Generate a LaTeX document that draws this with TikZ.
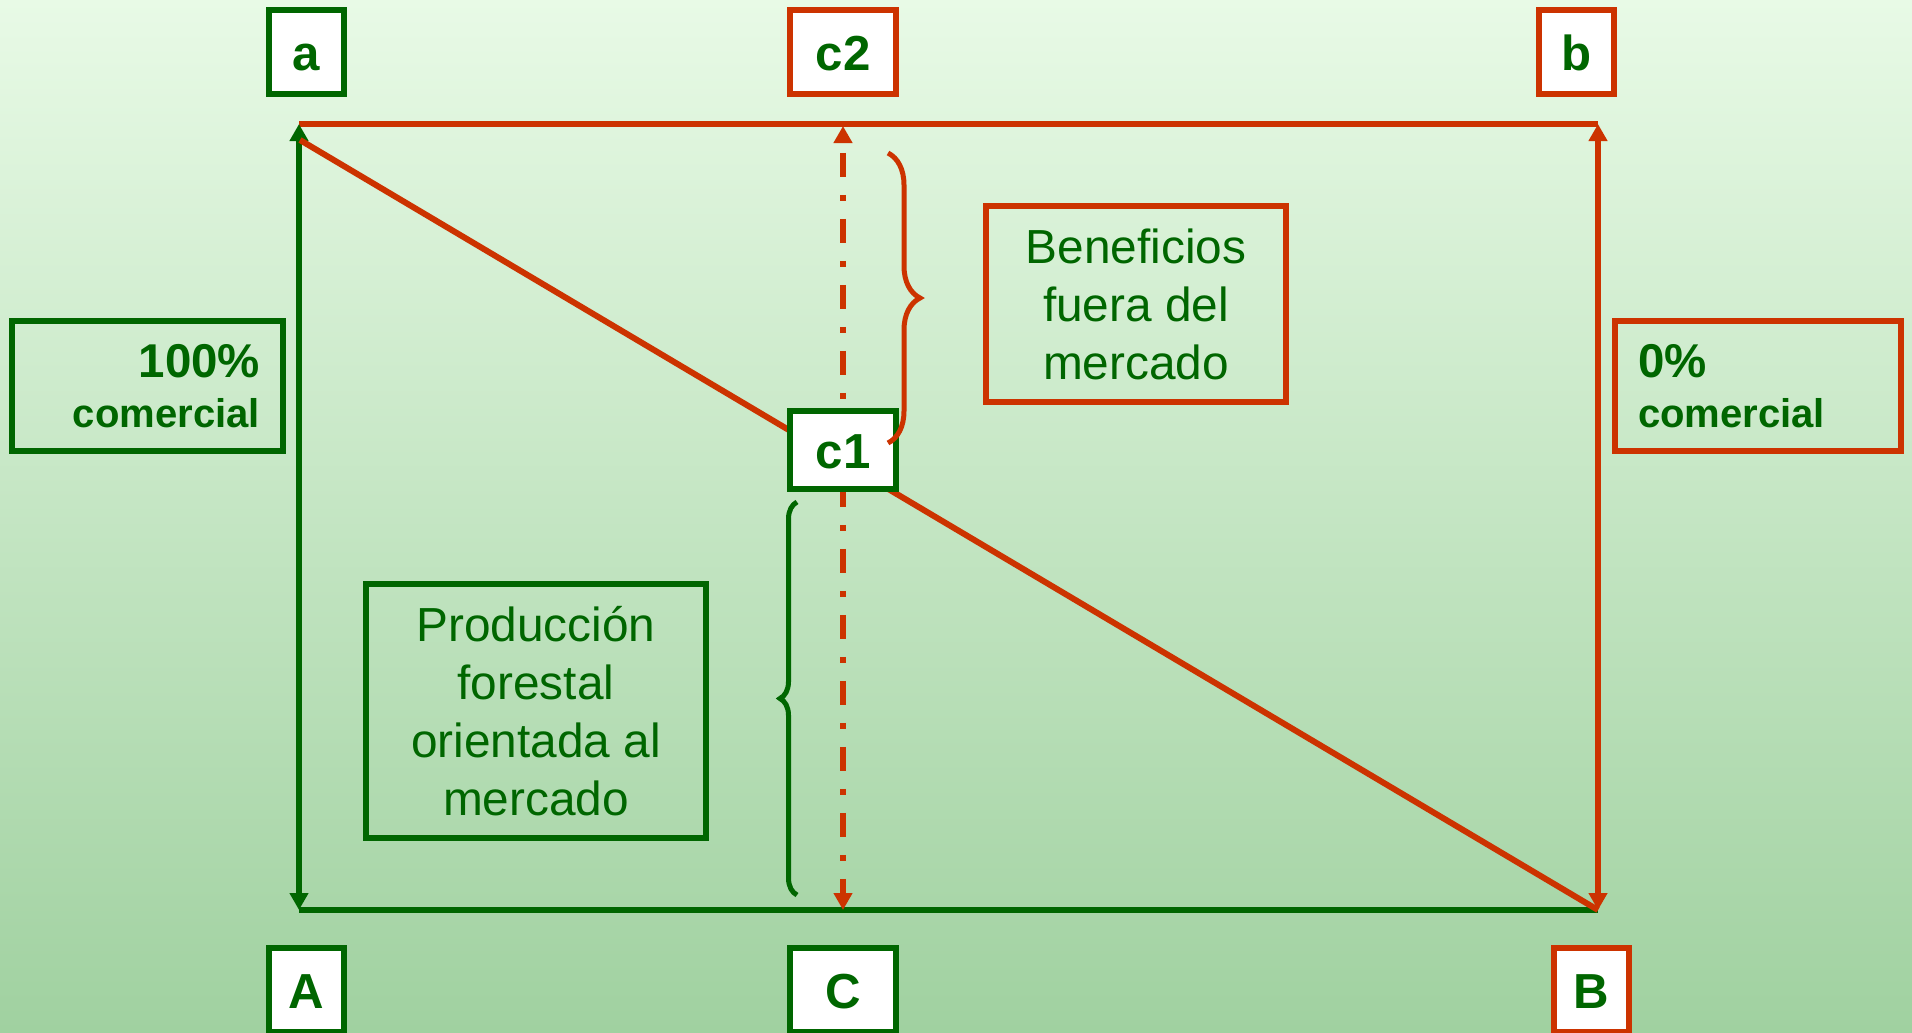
\documentclass[tikz,border=0pt]{standalone}
\usepackage{fontspec}
\setmainfont{Liberation Sans}
\usetikzlibrary{arrows.meta,decorations.pathreplacing}
\definecolor{leafgreen}{RGB}{0,102,0}
\definecolor{rustred}{RGB}{204,51,0}
\definecolor{bgtop}{RGB}{232,250,230}
\definecolor{bgbottom}{RGB}{160,209,160}

\begin{document}
\begin{tikzpicture}[x=0.1mm,y=-0.1mm,line width=0.6mm,
    biarrow/.style={{Triangle[length=1.7mm,width=1.8mm]}-{Triangle[length=1.7mm,width=1.8mm]}},
    letterbox/.style={draw=#1,fill=white,text=leafgreen,inner sep=0pt,
      font=\fontsize{14}{14}\selectfont\bfseries,text height=3.6mm,text depth=0pt,
      minimum width=7.5mm,minimum height=8.4mm},
    wordbox/.style={draw=#1,text=leafgreen,align=center,inner sep=0pt,
      font=\fontsize{13.6}{16.5}\selectfont},
    sidebox/.style={draw=#1,text=leafgreen,inner xsep=2.3mm,inner ysep=0pt,minimum height=13mm,
      font=\fontsize{11.4}{14.2}\selectfont\bfseries}]
    \useasboundingbox (0,0) rectangle (1912,1032);
    \shade[top color=bgtop,bottom color=bgbottom] (0,0) rectangle (1912,1032);
    \clip (0,0) rectangle (1912,1032);

    \coordinate (topleft) at (299,124);
    \coordinate (topright) at (1598,124);
    \coordinate (botleft) at (299,910);
    \coordinate (botright) at (1598,910);
    \coordinate (midtop) at (843,126);
    \coordinate (midbot) at (843,910);
    \coordinate (slopestart) at (300,140);

    \draw[rustred] (topleft) -- (topright);
    \draw[leafgreen] (botleft) -- (botright);
    \draw[leafgreen,biarrow] (botleft) -- (topleft);
    \draw[rustred,biarrow] (botright) -- (topright);
    \draw[rustred] (slopestart) -- (botright);
    \draw[rustred,biarrow,dash pattern=on 2.4mm off 1.8mm on 0.6mm off 1.8mm,dash phase=5.5mm]
      (midtop) -- (midbot);

    \node[letterbox=leafgreen] (a) at (306.5,52) {a};
    \node[letterbox=rustred,minimum width=10.6mm] (c2) at (843,52) {c2};
    \node[letterbox=rustred] (b) at (1576.5,52) {b};
    \node[letterbox=leafgreen,minimum width=10.6mm,minimum height=7.8mm] (c1) at (843,450) {c1};
    \node[letterbox=leafgreen] (A) at (306.5,990) {A};
    \node[letterbox=leafgreen,minimum width=10.6mm] (C) at (843,990) {C};
    \node[letterbox=rustred] (B) at (1591.5,990) {B};

    \node[sidebox=leafgreen,text width=22.5mm,align=right] (full) at (147.5,386)
      {{\fontsize{13.5}{14}\selectfont 100\%}\\comercial};
    \node[sidebox=rustred,text width=24mm,align=left] (none) at (1758,386)
      {{\fontsize{13.5}{14}\selectfont 0\%}\\comercial};
    \node[wordbox=rustred,minimum width=30mm,minimum height=19.6mm] (outside) at (1136,304)
      {Beneficios\\fuera del\\mercado};
    \node[wordbox=leafgreen,minimum width=34mm,minimum height=25.4mm] (market) at (536,711)
      {Producción\\forestal\\orientada al\\mercado};

    \coordinate (redtop) at (888,153);
    \coordinate (redbot) at (888,443);
    \coordinate (greentop) at (797,502);
    \coordinate (greenbot) at (797,895);
    \draw[rustred,line width=0.5mm,decorate,decoration={brace,amplitude=3.2mm}] (redtop) -- (redbot);
    \draw[leafgreen,line width=0.5mm,decorate,decoration={brace,amplitude=1.7mm}] (greenbot) -- (greentop);
\end{tikzpicture}
\end{document}
